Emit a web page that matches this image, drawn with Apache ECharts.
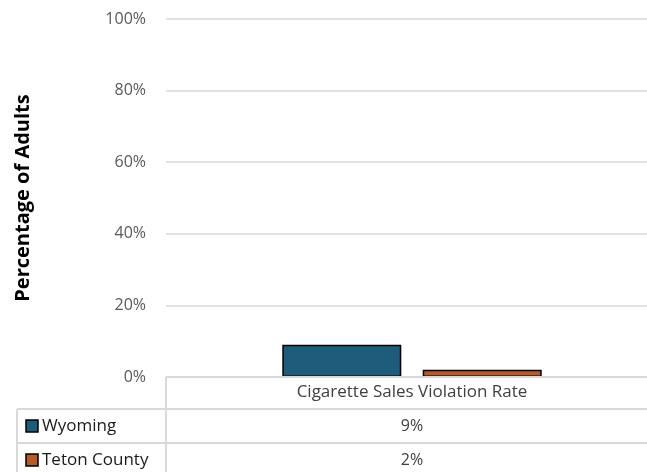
<!DOCTYPE html>
<html><head><meta charset="utf-8">
<script src="https://cdn.jsdelivr.net/npm/echarts@6/dist/echarts.min.js"></script>
<style>html,body{margin:0;padding:0;background:#fff}#c{width:647px;height:472px}</style>
</head><body><div id="c"></div>
<script>
const categories = ['Cigarette Sales Violation Rate'];
const seriesNames = ['Wyoming', 'Teton County'];
const wyoming = [9];
const teton = [2];
const seriesValues = [wyoming, teton];
const yTickMax = 100;
const yTickStep = 20;
const colors = ['#1f5b7b', '#b45a2b'];
const FONT = '"Open Sans", "Noto Sans", sans-serif';

const chart = echarts.init(document.getElementById('c'), null, {renderer: 'canvas'});
const option = {
  animation: false,
  backgroundColor: '#fff',
  grid: {left: 166, top: 19, height: 358, width: 492, containLabel: false, outerBoundsMode: 'none'},
  xAxis: {
    type: 'category', data: categories,
    axisLine: {show: false}, axisTick: {show: false},
    axisLabel: {show: true, margin: 7, fontSize: 17, color: '#404040', fontFamily: FONT}
  },
  yAxis: {
    type: 'value', min: 0, max: yTickMax, interval: yTickStep,
    axisLabel: {formatter: '{value}%', margin: 20, fontSize: 16, color: '#595959', fontFamily: FONT},
    axisLine: {show: false}, axisTick: {show: false},
    splitLine: {lineStyle: {color: '#d9d9d9', width: 1.5}},
    name: 'Percentage of Adults', nameLocation: 'middle', nameGap: 133, nameRotate: 90,
    nameTextStyle: {fontSize: 20, fontWeight: 'bold', color: '#000', fontFamily: FONT}
  },
  series: seriesNames.map((n, i) => ({
    name: n, type: 'bar', data: seriesValues[i], barWidth: 119, barGap: '18%',
    itemStyle: {color: colors[i], borderColor: '#000', borderWidth: 1.5}
  }))
};
chart.setOption(option);

// data table under the axis
const cx = chart.convertToPixel({xAxisIndex: 0}, categories[0]);
const y0 = chart.convertToPixel({yAxisIndex: 0}, 0);
const W = 647;
const rowTop = [y0 + 32, y0 + 66];
const lineStyle = {stroke: '#d9d9d9', lineWidth: 2};
const g = [];
g.push({type: 'line', shape: {x1: 166, y1: y0, x2: W, y2: y0}, style: lineStyle, z: 10});
g.push({type: 'line', shape: {x1: 166, y1: y0, x2: 166, y2: 472}, style: lineStyle, z: 10});
g.push({type: 'line', shape: {x1: 17, y1: rowTop[0], x2: 17, y2: 472}, style: lineStyle, z: 10});
rowTop.forEach(t => g.push({type: 'line', shape: {x1: 17, y1: t, x2: W, y2: t}, style: lineStyle, z: 10}));
seriesNames.forEach((n, i) => {
  const cy = rowTop[i] + 17;
  g.push({type: 'rect', shape: {x: 26, y: cy - 6, width: 12, height: 12},
    style: {fill: colors[i], stroke: '#000', lineWidth: 1.5}, z: 10});
  g.push({type: 'text', x: 42, y: cy, style: {text: n, fill: '#1a1a1a', font: '17px ' + FONT,
    textVerticalAlign: 'middle', verticalAlign: 'middle'}, z: 10});
  g.push({type: 'text', x: cx, y: cy, style: {text: seriesValues[i][0] + '%', fill: '#404040',
    font: '16px ' + FONT, textAlign: 'center', align: 'center', verticalAlign: 'middle', textVerticalAlign: 'middle'}, z: 10});
});
chart.setOption({graphic: g});
</script></body></html>
